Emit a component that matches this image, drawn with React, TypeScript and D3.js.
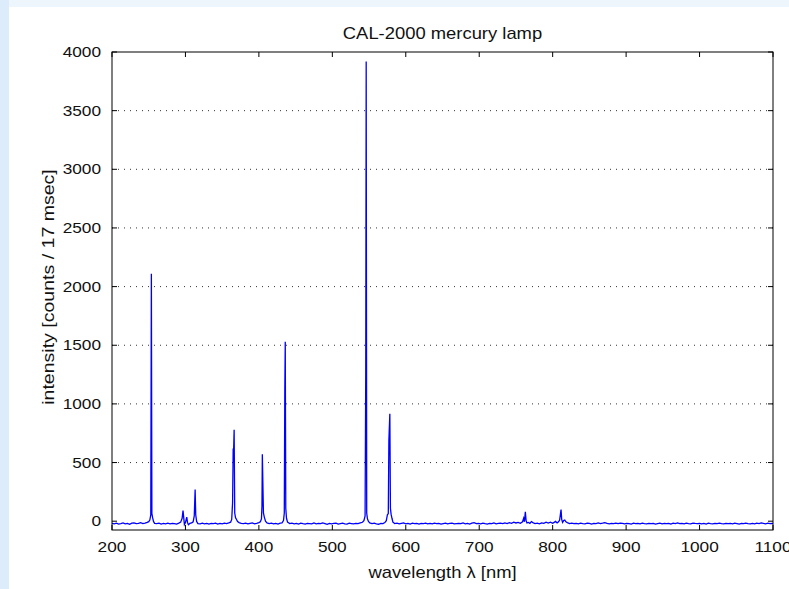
import React from 'react';
import * as d3 from 'd3';

// CAL-2000 mercury lamp spectrum, [wavelength nm, counts / 17 msec]
const mercurySpectrum: [number, number][] = [
  [200, -18], [203, -22], [206, -17], [209, -24], [212, -20], [215, -15], [218, -23], [221, -19],
  [224, -26], [227, -17], [230, -14], [233, -21], [236, -18], [239, -12], [242, -20], [245, -16],
  [248, -10], [250, -4], [251.5, 10], [252.8, 55], [253.6, 2110], [254.3, 65], [255.3, 30], [256.5, -2],
  [258, -18], [261, -21], [264, -16], [267, -24], [270, -19], [273, -22], [276, -17], [279, -23],
  [282, -18], [285, -20], [288, -24], [291, -16], [293.5, -8], [295.5, 25], [296.7, 90], [297.6, 35],
  [298.6, -28], [300, -12], [301.8, 35], [302.8, -10], [304, -30], [306, -19], [308.5, -15], [310.5, -5],
  [312, 45], [313.2, 270], [314, 55], [315.2, -2], [317, -20], [320, -23], [323, -17], [326, -22],
  [329, -19], [332, -25], [335, -18], [338, -21], [341, -16], [344, -24], [347, -19], [350, -22],
  [353, -17], [356, -20], [359, -15], [361.5, -8], [363, 15], [364.2, 160], [365, 620], [365.6, 600],
  [366.3, 780], [367.1, 70], [368.2, 30], [369.5, 15], [371, -3], [373, -12], [376, -18], [379, -21],
  [382, -16], [385, -23], [388, -19], [391, -15], [394, -22], [397, -18], [400, -12], [402, -5],
  [403.5, 20], [404.2, 130], [404.7, 570], [405.4, 330], [406.2, 70], [407.4, 35], [409, 0], [411, -14],
  [414, -20], [417, -17], [420, -23], [423, -18], [426, -24], [429, -16], [431.5, -14], [433.5, 5],
  [434.6, 70], [435.3, 1120], [435.9, 1530], [436.6, 110], [437.6, 25], [439, -8], [442, -20], [445, -17],
  [448, -23], [451, -19], [454, -25], [457, -16], [460, -21], [463, -24], [466, -18], [469, -20],
  [472, -23], [475, -15], [478, -22], [481, -19], [484, -21], [487, -15], [490, -20], [493, -26],
  [496, -18], [499, -22], [502, -19], [505, -16], [508, -24], [511, -20], [514, -17], [517, -22],
  [520, -25], [523, -17], [526, -20], [529, -23], [532, -18], [535, -21], [538, -14], [541, -9],
  [543, 5], [544.6, 45], [545.5, 1270], [546.1, 3920], [546.8, 70], [547.8, 20], [549.2, -2], [551, -15],
  [554, -21], [557, -17], [560, -23], [563, -26], [566, -18], [569, -21], [571.5, -12], [573.5, 5],
  [575, 55], [576.2, 65], [577, 690], [578.3, 915], [579.1, 110], [580, 60], [581.2, 25], [582.5, -8],
  [585, -20], [588, -17], [591, -23], [594, -19], [597, -15], [600, -22], [603, -18], [606, -24],
  [609, -17], [612, -21], [615, -19], [618, -25], [621, -18], [624, -20], [627, -16], [630, -22],
  [633, -19], [636, -23], [639, -17], [642, -21], [645, -18], [648, -24], [651, -20], [654, -16],
  [657, -22], [660, -19], [663, -17], [666, -23], [669, -20], [672, -18], [675, -21], [678, -15],
  [681, -22], [684, -19], [687, -24], [690, -17], [693, -12], [696, -20], [699, -18], [702, -22],
  [705, -16], [708, -21], [711, -24], [714, -18], [717, -20], [720, -15], [723, -22], [726, -19],
  [729, -17], [732, -21], [735, -14], [738, -20], [741, -12], [744, -18], [747, -8], [750, -15],
  [753, -10], [756, -18], [759, -5], [760.5, 25], [761.5, -5], [762.8, 80], [763.8, 5], [765, -15],
  [767, -10], [769, -18], [771, -3], [773, -12], [776, -20], [779, -17], [782, -22], [785, -14],
  [788, -19], [791, -9], [794, -16], [797, -8], [800, -18], [802, -10], [804, -2], [806, -15],
  [808, -5], [809.5, 10], [811.4, 100], [812.3, 15], [813.5, -10], [815, 5], [816.5, 10], [818, -5],
  [820, -12], [823, -20], [826, -16], [829, -21], [832, -18], [835, -23], [838, -17], [841, -20],
  [844, -22], [847, -16], [850, -19], [853, -24], [856, -18], [859, -20], [862, -15], [865, -21],
  [868, -17], [871, -12], [874, -19], [877, -22], [880, -18], [883, -20], [886, -16], [889, -21],
  [892, -17], [895, -19], [898, -23], [901, -18], [904, -20], [907, -24], [910, -17], [913, -21],
  [916, -19], [919, -22], [922, -16], [925, -20], [928, -23], [931, -18], [934, -21], [937, -19],
  [940, -24], [943, -20], [946, -17], [949, -22], [952, -19], [955, -21], [958, -18], [961, -25],
  [964, -16], [967, -20], [970, -15], [973, -21], [976, -19], [979, -23], [982, -17], [985, -20],
  [988, -22], [991, -16], [994, -19], [997, -21], [1000, -18], [1003, -22], [1006, -19], [1009, -24],
  [1012, -17], [1015, -20], [1018, -22], [1021, -18], [1024, -21], [1027, -16], [1030, -20], [1033, -23],
  [1036, -18], [1039, -21], [1042, -19], [1045, -22], [1048, -17], [1051, -20], [1054, -24], [1057, -18],
  [1060, -21], [1063, -16], [1066, -20], [1069, -22], [1072, -18], [1075, -23], [1078, -17], [1081, -20],
  [1084, -14], [1087, -19], [1090, -22], [1093, -17], [1096, -20], [1099, -18], [1100, -21],
];

const xTicks = [200, 300, 400, 500, 600, 700, 800, 900, 1000, 1100];
const yTicks = [0, 500, 1000, 1500, 2000, 2500, 3000, 3500, 4000];

const W = 789;
const H = 589;
const plot = { left: 112, right: 773, top: 52, bottom: 530 };
const FONT = '"Liberation Sans", Arial, Helvetica, sans-serif';
const STRETCH = 1.15; // the original glyphs are drawn wide

const Txt = ({ x, y, children, anchor = 'middle', rotate = 0, size = 16 }: any) => (
  <g transform={`translate(${x},${y}) rotate(${rotate}) scale(${STRETCH},1)`}>
    <text textAnchor={anchor} fontFamily={FONT} fontSize={size} fill="#111">
      {children}
    </text>
  </g>
);

export default function App() {
  const x = d3.scaleLinear().domain([200, 1100]).range([plot.left, plot.right]);
  const y = d3.scaleLinear().domain([-75, 4000]).range([plot.bottom, plot.top]);
  const line = d3
    .line<[number, number]>()
    .x((d) => x(d[0]))
    .y((d) => y(d[1]));
  const tick = 5;

  return (
    <svg
      width={W}
      height={H}
      style={{ position: 'absolute', left: 0, top: 0, display: 'block' }}
    >
      <rect width={W} height={H} fill="#eef6fd" />
      <rect x={0} y={0} width={9} height={H} fill="#dcecfb" />
      <rect x={9} y={7} width={W - 9} height={H - 7} fill="#fff" />

      {/* dotted horizontal grid */}
      {yTicks.slice(1, -1).map((t) => (
        <line
          key={'g' + t}
          x1={plot.left}
          x2={plot.right}
          y1={y(t)}
          y2={y(t)}
          stroke="#333"
          strokeDasharray="1,5"
        />
      ))}

      <path d={line(mercurySpectrum) || ''} fill="none" stroke="#0000ff" strokeWidth={1.3} />

      {/* box and inward ticks */}
      <rect
        x={plot.left}
        y={plot.top}
        width={plot.right - plot.left}
        height={plot.bottom - plot.top}
        fill="none"
        stroke="#000"
      />
      {xTicks.map((t) => (
        <g key={'x' + t}>
          <line x1={x(t)} x2={x(t)} y1={plot.bottom} y2={plot.bottom - tick} stroke="#000" />
          <line x1={x(t)} x2={x(t)} y1={plot.top} y2={plot.top + tick} stroke="#000" />
          <Txt x={x(t)} y={plot.bottom + 22} size={15}>{t}</Txt>
        </g>
      ))}
      {yTicks.map((t) => (
        <g key={'y' + t}>
          <line x1={plot.left} x2={plot.left + tick} y1={y(t)} y2={y(t)} stroke="#000" />
          <line x1={plot.right} x2={plot.right - tick} y1={y(t)} y2={y(t)} stroke="#000" />
          <Txt x={plot.left - 11} y={y(t) + 5} anchor="end" size={15}>{t}</Txt>
        </g>
      ))}

      <Txt x={(plot.left + plot.right) / 2} y={39}>CAL-2000 mercury lamp</Txt>
      <Txt x={(plot.left + plot.right) / 2} y={578}>wavelength λ [nm]</Txt>
      <Txt x={54} y={(plot.top + plot.bottom) / 2 - 4} rotate={-90} size={17}>intensity [counts / 17 msec]</Txt>
    </svg>
  );
}
